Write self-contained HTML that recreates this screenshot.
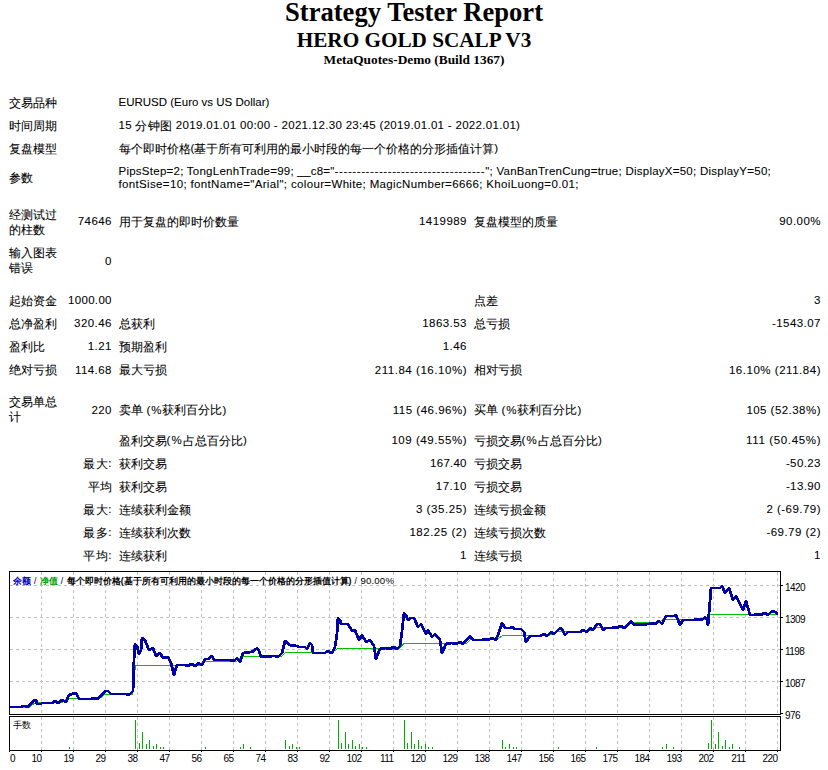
<!DOCTYPE html>
<html><head><meta charset="utf-8">
<style>
html,body{margin:0;padding:0;background:#fff;width:828px;height:770px;overflow:hidden;position:relative}
body{font-family:"Liberation Sans",sans-serif;color:#000}
.t{position:absolute;left:0;width:828px;text-align:center;font-family:"Liberation Serif",serif;font-weight:bold;white-space:nowrap}
.c{position:absolute;white-space:nowrap;font-size:11.5px;line-height:13px;-webkit-text-stroke:0.08px #000}
.r{text-align:right}
.k{position:relative;top:0.5px}
svg{position:absolute;left:0;top:0}
.g{stroke:#C0C0C0;stroke-width:1;stroke-dasharray:3 3}
.yl{position:absolute;left:785px;font-size:10px;letter-spacing:-0.55px;line-height:12px;white-space:nowrap}
.xl{position:absolute;top:753px;font-size:10px;letter-spacing:-0.55px;line-height:12px;white-space:nowrap}
.xr{width:60px;text-align:right}
.sl{letter-spacing:0.5px;font-weight:normal}
.ct{position:absolute;left:13px;top:575px;font-size:8.8px;line-height:11px;white-space:nowrap;font-weight:bold;letter-spacing:0px}
</style></head><body>
<div class="t" style="top:-2px;font-size:26.6px;line-height:28px">Strategy Tester Report</div>
<div class="t" style="top:29px;font-size:21.2px;line-height:22px">HERO GOLD SCALP V3</div>
<div class="t" style="top:52px;font-size:13.35px;line-height:15px">MetaQuotes-Demo (Build 1367)</div>
<div class="c" style="left:9px;top:96.0px"><span class="k">交易品种</span></div>
<div class="c" style="left:118.5px;top:96.0px">EURUSD (Euro vs US Dollar)</div>
<div class="c" style="left:9px;top:119.0px"><span class="k">时间周期</span></div>
<div class="c" style="left:118.5px;top:119.0px;letter-spacing:0.31px">15 <span class="k">分钟图</span> 2019.01.01 00:00 - 2021.12.30 23:45 (2019.01.01 - 2022.01.01)</div>
<div class="c" style="left:9px;top:142.0px"><span class="k">复盘模型</span></div>
<div class="c" style="left:118.5px;top:142.0px"><span class="k">每个即时价格</span>(<span class="k">基于所有可利用的最小时段的每一个价格的分形插值计算</span>)</div>
<div class="c" style="left:9px;top:171.0px"><span class="k">参数</span></div>
<div class="c" style="left:118.5px;top:164.5px"><span style="letter-spacing:0.25px">PipsStep=2; TongLenhTrade=99; __c8="</span><span style="letter-spacing:0.6px">----------------------------------</span><span style="letter-spacing:0.25px">"; VanBanTrenCung=true; DisplayX=50; DisplayY=50;</span><br><span style="letter-spacing:0.35px">fontSise=10; fontName="Arial"; colour=White; MagicNumber=6666; KhoiLuong=0.01;</span></div>
<div class="c" style="left:9px;top:207.3px;line-height:15px"><span class="k">经测试过</span><br><span class="k">的柱数</span></div>
<div class="c r" style="left:-188.05px;width:300px;top:215.0px;letter-spacing:0.45px">74646</div>
<div class="c" style="left:118.5px;top:215.0px"><span class="k">用于复盘的即时价数量</span></div>
<div class="c r" style="left:166.95px;width:300px;top:215.0px;letter-spacing:0.45px">1419989</div>
<div class="c" style="left:473.5px;top:215.0px"><span class="k">复盘模型的质量</span></div>
<div class="c r" style="left:520.95px;width:300px;top:215.0px;letter-spacing:0.45px">90.00%</div>
<div class="c" style="left:9px;top:245.5px;line-height:15px"><span class="k">输入图表</span><br><span class="k">错误</span></div>
<div class="c r" style="left:-188.05px;width:300px;top:254.5px;letter-spacing:0.45px">0</div>
<div class="c" style="left:9px;top:294.0px"><span class="k">起始资金</span></div>
<div class="c r" style="left:-188.17px;width:300px;top:294.0px;letter-spacing:0.33px">1000.00</div>
<div class="c" style="left:473.5px;top:294.0px"><span class="k">点差</span></div>
<div class="c r" style="left:520.95px;width:300px;top:294.0px;letter-spacing:0.45px">3</div>
<div class="c" style="left:9px;top:317.2px"><span class="k">总净盈利</span></div>
<div class="c r" style="left:-188.05px;width:300px;top:317.2px;letter-spacing:0.45px">320.46</div>
<div class="c" style="left:118.5px;top:317.2px"><span class="k">总获利</span></div>
<div class="c r" style="left:166.95px;width:300px;top:317.2px;letter-spacing:0.45px">1863.53</div>
<div class="c" style="left:473.5px;top:317.2px"><span class="k">总亏损</span></div>
<div class="c r" style="left:520.95px;width:300px;top:317.2px;letter-spacing:0.45px">-1543.07</div>
<div class="c" style="left:9px;top:340.3px"><span class="k">盈利比</span></div>
<div class="c r" style="left:-188.05px;width:300px;top:340.3px;letter-spacing:0.45px">1.21</div>
<div class="c" style="left:118.5px;top:340.3px"><span class="k">预期盈利</span></div>
<div class="c r" style="left:166.95px;width:300px;top:340.3px;letter-spacing:0.45px">1.46</div>
<div class="c" style="left:9px;top:363.5px"><span class="k">绝对亏损</span></div>
<div class="c r" style="left:-188.05px;width:300px;top:363.5px;letter-spacing:0.45px">114.68</div>
<div class="c" style="left:118.5px;top:363.5px"><span class="k">最大亏损</span></div>
<div class="c r" style="left:167.04px;width:300px;top:363.5px;letter-spacing:0.54px">211.84 (16.10%)</div>
<div class="c" style="left:473.5px;top:363.5px"><span class="k">相对亏损</span></div>
<div class="c r" style="left:521.03px;width:300px;top:363.5px;letter-spacing:0.53px">16.10% (211.84)</div>
<div class="c" style="left:9px;top:394.8px;line-height:15px"><span class="k">交易单总</span><br><span class="k">计</span></div>
<div class="c r" style="left:-188.05px;width:300px;top:403.5px;letter-spacing:0.45px">220</div>
<div class="c" style="left:118.5px;top:403.5px"><span class="k">卖单</span><span style="letter-spacing:0.9px"> (%</span><span class="k">获利百分比</span><span style="letter-spacing:0.9px">)</span></div>
<div class="c r" style="left:167.00px;width:300px;top:403.5px;letter-spacing:0.5px">115 (46.96%)</div>
<div class="c" style="left:473.5px;top:403.5px"><span class="k">买单</span><span style="letter-spacing:0.9px"> (%</span><span class="k">获利百分比</span><span style="letter-spacing:0.9px">)</span></div>
<div class="c r" style="left:520.96px;width:300px;top:403.5px;letter-spacing:0.46px">105 (52.38%)</div>
<div class="c" style="left:118.5px;top:434.0px"><span class="k">盈利交易</span><span style="letter-spacing:1.2px">(%</span><span class="k">占总百分比</span><span style="letter-spacing:1.2px">)</span></div>
<div class="c r" style="left:167.05px;width:300px;top:434.0px;letter-spacing:0.55px">109 (49.55%)</div>
<div class="c" style="left:473.5px;top:434.0px"><span class="k">亏损交易</span><span style="letter-spacing:1.2px">(%</span><span class="k">占总百分比</span><span style="letter-spacing:1.2px">)</span></div>
<div class="c r" style="left:521.15px;width:300px;top:434.0px;letter-spacing:0.65px">111 (50.45%)</div>
<div class="c r" style="left:-187.90px;width:300px;top:457.0px;letter-spacing:0.6px"><span class="k">最大</span>:</div>
<div class="c" style="left:118.5px;top:457.0px"><span class="k">获利交易</span></div>
<div class="c r" style="left:166.74px;width:300px;top:457.0px;letter-spacing:0.24px">167.40</div>
<div class="c" style="left:473.5px;top:457.0px"><span class="k">亏损交易</span></div>
<div class="c r" style="left:520.90px;width:300px;top:457.0px;letter-spacing:0.4px">-50.23</div>
<div class="c r" style="left:-188.50px;width:300px;top:480.0px"><span class="k">平均</span></div>
<div class="c" style="left:118.5px;top:480.0px"><span class="k">获利交易</span></div>
<div class="c r" style="left:166.97px;width:300px;top:480.0px;letter-spacing:0.47px">17.10</div>
<div class="c" style="left:473.5px;top:480.0px"><span class="k">亏损交易</span></div>
<div class="c r" style="left:520.90px;width:300px;top:480.0px;letter-spacing:0.4px">-13.90</div>
<div class="c r" style="left:-187.90px;width:300px;top:503.0px;letter-spacing:0.6px"><span class="k">最大</span>:</div>
<div class="c" style="left:118.5px;top:503.0px"><span class="k">连续获利金额</span></div>
<div class="c r" style="left:167.07px;width:300px;top:503.0px;letter-spacing:0.57px">3 (35.25)</div>
<div class="c" style="left:473.5px;top:503.0px"><span class="k">连续亏损金额</span></div>
<div class="c r" style="left:520.97px;width:300px;top:503.0px;letter-spacing:0.47px">2 (-69.79)</div>
<div class="c r" style="left:-187.90px;width:300px;top:526.0px;letter-spacing:0.6px"><span class="k">最多</span>:</div>
<div class="c" style="left:118.5px;top:526.0px"><span class="k">连续获利次数</span></div>
<div class="c r" style="left:167.02px;width:300px;top:526.0px;letter-spacing:0.52px">182.25 (2)</div>
<div class="c" style="left:473.5px;top:526.0px"><span class="k">连续亏损次数</span></div>
<div class="c r" style="left:520.97px;width:300px;top:526.0px;letter-spacing:0.47px">-69.79 (2)</div>
<div class="c r" style="left:-187.90px;width:300px;top:549.0px;letter-spacing:0.6px"><span class="k">平均</span>:</div>
<div class="c" style="left:118.5px;top:549.0px"><span class="k">连续获利</span></div>
<div class="c r" style="left:166.95px;width:300px;top:549.0px;letter-spacing:0.45px">1</div>
<div class="c" style="left:473.5px;top:549.0px"><span class="k">连续亏损</span></div>
<div class="c r" style="left:520.95px;width:300px;top:549.0px;letter-spacing:0.45px">1</div>
<svg width="828" height="770" viewBox="0 0 828 770">
<line x1="41.5" y1="572" x2="41.5" y2="714" class="g"/>
<line x1="41.5" y1="717" x2="41.5" y2="750" class="g"/>
<line x1="73.5" y1="572" x2="73.5" y2="714" class="g"/>
<line x1="73.5" y1="717" x2="73.5" y2="750" class="g"/>
<line x1="105.5" y1="572" x2="105.5" y2="714" class="g"/>
<line x1="105.5" y1="717" x2="105.5" y2="750" class="g"/>
<line x1="137.5" y1="572" x2="137.5" y2="714" class="g"/>
<line x1="137.5" y1="717" x2="137.5" y2="750" class="g"/>
<line x1="169.5" y1="572" x2="169.5" y2="714" class="g"/>
<line x1="169.5" y1="717" x2="169.5" y2="750" class="g"/>
<line x1="201.5" y1="572" x2="201.5" y2="714" class="g"/>
<line x1="201.5" y1="717" x2="201.5" y2="750" class="g"/>
<line x1="233.5" y1="572" x2="233.5" y2="714" class="g"/>
<line x1="233.5" y1="717" x2="233.5" y2="750" class="g"/>
<line x1="265.5" y1="572" x2="265.5" y2="714" class="g"/>
<line x1="265.5" y1="717" x2="265.5" y2="750" class="g"/>
<line x1="297.5" y1="572" x2="297.5" y2="714" class="g"/>
<line x1="297.5" y1="717" x2="297.5" y2="750" class="g"/>
<line x1="329.5" y1="572" x2="329.5" y2="714" class="g"/>
<line x1="329.5" y1="717" x2="329.5" y2="750" class="g"/>
<line x1="361.5" y1="572" x2="361.5" y2="714" class="g"/>
<line x1="361.5" y1="717" x2="361.5" y2="750" class="g"/>
<line x1="393.5" y1="572" x2="393.5" y2="714" class="g"/>
<line x1="393.5" y1="717" x2="393.5" y2="750" class="g"/>
<line x1="425.5" y1="572" x2="425.5" y2="714" class="g"/>
<line x1="425.5" y1="717" x2="425.5" y2="750" class="g"/>
<line x1="457.5" y1="572" x2="457.5" y2="714" class="g"/>
<line x1="457.5" y1="717" x2="457.5" y2="750" class="g"/>
<line x1="489.5" y1="572" x2="489.5" y2="714" class="g"/>
<line x1="489.5" y1="717" x2="489.5" y2="750" class="g"/>
<line x1="521.5" y1="572" x2="521.5" y2="714" class="g"/>
<line x1="521.5" y1="717" x2="521.5" y2="750" class="g"/>
<line x1="553.5" y1="572" x2="553.5" y2="714" class="g"/>
<line x1="553.5" y1="717" x2="553.5" y2="750" class="g"/>
<line x1="585.5" y1="572" x2="585.5" y2="714" class="g"/>
<line x1="585.5" y1="717" x2="585.5" y2="750" class="g"/>
<line x1="617.5" y1="572" x2="617.5" y2="714" class="g"/>
<line x1="617.5" y1="717" x2="617.5" y2="750" class="g"/>
<line x1="649.5" y1="572" x2="649.5" y2="714" class="g"/>
<line x1="649.5" y1="717" x2="649.5" y2="750" class="g"/>
<line x1="681.5" y1="572" x2="681.5" y2="714" class="g"/>
<line x1="681.5" y1="717" x2="681.5" y2="750" class="g"/>
<line x1="713.5" y1="572" x2="713.5" y2="714" class="g"/>
<line x1="713.5" y1="717" x2="713.5" y2="750" class="g"/>
<line x1="745.5" y1="572" x2="745.5" y2="714" class="g"/>
<line x1="745.5" y1="717" x2="745.5" y2="750" class="g"/>
<line x1="777.5" y1="572" x2="777.5" y2="714" class="g"/>
<line x1="777.5" y1="717" x2="777.5" y2="750" class="g"/>
<line x1="10" y1="585.5" x2="780" y2="585.5" class="g"/>
<line x1="10" y1="617.5" x2="780" y2="617.5" class="g"/>
<line x1="10" y1="649.5" x2="780" y2="649.5" class="g"/>
<line x1="10" y1="681.5" x2="780" y2="681.5" class="g"/>
<rect x="9.5" y="571.5" width="771" height="143" fill="none" stroke="#000"/>
<rect x="9.5" y="716.5" width="771" height="34" fill="none" stroke="#000"/>
<line x1="780" y1="585.5" x2="783" y2="585.5" stroke="#000" shape-rendering="crispEdges"/>
<line x1="780" y1="617.5" x2="783" y2="617.5" stroke="#000" shape-rendering="crispEdges"/>
<line x1="780" y1="649.5" x2="783" y2="649.5" stroke="#000" shape-rendering="crispEdges"/>
<line x1="780" y1="681.5" x2="783" y2="681.5" stroke="#000" shape-rendering="crispEdges"/>
<line x1="780" y1="713.5" x2="783" y2="713.5" stroke="#000" shape-rendering="crispEdges"/>
<line x1="9.5" y1="750" x2="9.5" y2="752" stroke="#000" shape-rendering="crispEdges"/>
<line x1="41.5" y1="750" x2="41.5" y2="752" stroke="#000" shape-rendering="crispEdges"/>
<line x1="73.5" y1="750" x2="73.5" y2="752" stroke="#000" shape-rendering="crispEdges"/>
<line x1="105.5" y1="750" x2="105.5" y2="752" stroke="#000" shape-rendering="crispEdges"/>
<line x1="137.5" y1="750" x2="137.5" y2="752" stroke="#000" shape-rendering="crispEdges"/>
<line x1="169.5" y1="750" x2="169.5" y2="752" stroke="#000" shape-rendering="crispEdges"/>
<line x1="201.5" y1="750" x2="201.5" y2="752" stroke="#000" shape-rendering="crispEdges"/>
<line x1="233.5" y1="750" x2="233.5" y2="752" stroke="#000" shape-rendering="crispEdges"/>
<line x1="265.5" y1="750" x2="265.5" y2="752" stroke="#000" shape-rendering="crispEdges"/>
<line x1="297.5" y1="750" x2="297.5" y2="752" stroke="#000" shape-rendering="crispEdges"/>
<line x1="329.5" y1="750" x2="329.5" y2="752" stroke="#000" shape-rendering="crispEdges"/>
<line x1="361.5" y1="750" x2="361.5" y2="752" stroke="#000" shape-rendering="crispEdges"/>
<line x1="393.5" y1="750" x2="393.5" y2="752" stroke="#000" shape-rendering="crispEdges"/>
<line x1="425.5" y1="750" x2="425.5" y2="752" stroke="#000" shape-rendering="crispEdges"/>
<line x1="457.5" y1="750" x2="457.5" y2="752" stroke="#000" shape-rendering="crispEdges"/>
<line x1="489.5" y1="750" x2="489.5" y2="752" stroke="#000" shape-rendering="crispEdges"/>
<line x1="521.5" y1="750" x2="521.5" y2="752" stroke="#000" shape-rendering="crispEdges"/>
<line x1="553.5" y1="750" x2="553.5" y2="752" stroke="#000" shape-rendering="crispEdges"/>
<line x1="585.5" y1="750" x2="585.5" y2="752" stroke="#000" shape-rendering="crispEdges"/>
<line x1="617.5" y1="750" x2="617.5" y2="752" stroke="#000" shape-rendering="crispEdges"/>
<line x1="649.5" y1="750" x2="649.5" y2="752" stroke="#000" shape-rendering="crispEdges"/>
<line x1="681.5" y1="750" x2="681.5" y2="752" stroke="#000" shape-rendering="crispEdges"/>
<line x1="713.5" y1="750" x2="713.5" y2="752" stroke="#000" shape-rendering="crispEdges"/>
<line x1="745.5" y1="750" x2="745.5" y2="752" stroke="#000" shape-rendering="crispEdges"/>
<line x1="777.5" y1="750" x2="777.5" y2="752" stroke="#000" shape-rendering="crispEdges"/>
<line x1="69.5" y1="747" x2="69.5" y2="749" stroke="#00B000" stroke-width="1" shape-rendering="crispEdges"/>
<line x1="135.5" y1="720" x2="135.5" y2="749" stroke="#00B000" stroke-width="1" shape-rendering="crispEdges"/>
<line x1="139.5" y1="743" x2="139.5" y2="749" stroke="#00B000" stroke-width="1" shape-rendering="crispEdges"/>
<line x1="142.5" y1="732" x2="142.5" y2="749" stroke="#00B000" stroke-width="1" shape-rendering="crispEdges"/>
<line x1="146.5" y1="744" x2="146.5" y2="749" stroke="#00B000" stroke-width="1" shape-rendering="crispEdges"/>
<line x1="149.5" y1="740" x2="149.5" y2="749" stroke="#00B000" stroke-width="1" shape-rendering="crispEdges"/>
<line x1="153.5" y1="746" x2="153.5" y2="749" stroke="#00B000" stroke-width="1" shape-rendering="crispEdges"/>
<line x1="156.5" y1="744" x2="156.5" y2="749" stroke="#00B000" stroke-width="1" shape-rendering="crispEdges"/>
<line x1="160.5" y1="747" x2="160.5" y2="749" stroke="#00B000" stroke-width="1" shape-rendering="crispEdges"/>
<line x1="163.5" y1="747" x2="163.5" y2="749" stroke="#00B000" stroke-width="1" shape-rendering="crispEdges"/>
<line x1="205.5" y1="747" x2="205.5" y2="749" stroke="#00B000" stroke-width="1" shape-rendering="crispEdges"/>
<line x1="240.5" y1="747" x2="240.5" y2="749" stroke="#00B000" stroke-width="1" shape-rendering="crispEdges"/>
<line x1="243.5" y1="744" x2="243.5" y2="749" stroke="#00B000" stroke-width="1" shape-rendering="crispEdges"/>
<line x1="250.5" y1="747" x2="250.5" y2="749" stroke="#00B000" stroke-width="1" shape-rendering="crispEdges"/>
<line x1="285.5" y1="740" x2="285.5" y2="749" stroke="#00B000" stroke-width="1" shape-rendering="crispEdges"/>
<line x1="289.5" y1="746" x2="289.5" y2="749" stroke="#00B000" stroke-width="1" shape-rendering="crispEdges"/>
<line x1="292.5" y1="744" x2="292.5" y2="749" stroke="#00B000" stroke-width="1" shape-rendering="crispEdges"/>
<line x1="296.5" y1="747" x2="296.5" y2="749" stroke="#00B000" stroke-width="1" shape-rendering="crispEdges"/>
<line x1="299.5" y1="747" x2="299.5" y2="749" stroke="#00B000" stroke-width="1" shape-rendering="crispEdges"/>
<line x1="338.5" y1="720" x2="338.5" y2="749" stroke="#00B000" stroke-width="1" shape-rendering="crispEdges"/>
<line x1="341.5" y1="743" x2="341.5" y2="749" stroke="#00B000" stroke-width="1" shape-rendering="crispEdges"/>
<line x1="345.5" y1="732" x2="345.5" y2="749" stroke="#00B000" stroke-width="1" shape-rendering="crispEdges"/>
<line x1="348.5" y1="744" x2="348.5" y2="749" stroke="#00B000" stroke-width="1" shape-rendering="crispEdges"/>
<line x1="352.5" y1="740" x2="352.5" y2="749" stroke="#00B000" stroke-width="1" shape-rendering="crispEdges"/>
<line x1="355.5" y1="746" x2="355.5" y2="749" stroke="#00B000" stroke-width="1" shape-rendering="crispEdges"/>
<line x1="359.5" y1="744" x2="359.5" y2="749" stroke="#00B000" stroke-width="1" shape-rendering="crispEdges"/>
<line x1="362.5" y1="747" x2="362.5" y2="749" stroke="#00B000" stroke-width="1" shape-rendering="crispEdges"/>
<line x1="366.5" y1="747" x2="366.5" y2="749" stroke="#00B000" stroke-width="1" shape-rendering="crispEdges"/>
<line x1="404.5" y1="720" x2="404.5" y2="749" stroke="#00B000" stroke-width="1" shape-rendering="crispEdges"/>
<line x1="407.5" y1="743" x2="407.5" y2="749" stroke="#00B000" stroke-width="1" shape-rendering="crispEdges"/>
<line x1="411.5" y1="732" x2="411.5" y2="749" stroke="#00B000" stroke-width="1" shape-rendering="crispEdges"/>
<line x1="414.5" y1="744" x2="414.5" y2="749" stroke="#00B000" stroke-width="1" shape-rendering="crispEdges"/>
<line x1="418.5" y1="740" x2="418.5" y2="749" stroke="#00B000" stroke-width="1" shape-rendering="crispEdges"/>
<line x1="421.5" y1="746" x2="421.5" y2="749" stroke="#00B000" stroke-width="1" shape-rendering="crispEdges"/>
<line x1="425.5" y1="744" x2="425.5" y2="749" stroke="#00B000" stroke-width="1" shape-rendering="crispEdges"/>
<line x1="428.5" y1="747" x2="428.5" y2="749" stroke="#00B000" stroke-width="1" shape-rendering="crispEdges"/>
<line x1="432.5" y1="747" x2="432.5" y2="749" stroke="#00B000" stroke-width="1" shape-rendering="crispEdges"/>
<line x1="502.5" y1="740" x2="502.5" y2="749" stroke="#00B000" stroke-width="1" shape-rendering="crispEdges"/>
<line x1="505.5" y1="747" x2="505.5" y2="749" stroke="#00B000" stroke-width="1" shape-rendering="crispEdges"/>
<line x1="509.5" y1="744" x2="509.5" y2="749" stroke="#00B000" stroke-width="1" shape-rendering="crispEdges"/>
<line x1="513.5" y1="747" x2="513.5" y2="749" stroke="#00B000" stroke-width="1" shape-rendering="crispEdges"/>
<line x1="516.5" y1="747" x2="516.5" y2="749" stroke="#00B000" stroke-width="1" shape-rendering="crispEdges"/>
<line x1="558.5" y1="747" x2="558.5" y2="749" stroke="#00B000" stroke-width="1" shape-rendering="crispEdges"/>
<line x1="596.5" y1="747" x2="596.5" y2="749" stroke="#00B000" stroke-width="1" shape-rendering="crispEdges"/>
<line x1="662.5" y1="747" x2="662.5" y2="749" stroke="#00B000" stroke-width="1" shape-rendering="crispEdges"/>
<line x1="666.5" y1="744" x2="666.5" y2="749" stroke="#00B000" stroke-width="1" shape-rendering="crispEdges"/>
<line x1="673.5" y1="747" x2="673.5" y2="749" stroke="#00B000" stroke-width="1" shape-rendering="crispEdges"/>
<line x1="708.5" y1="743" x2="708.5" y2="749" stroke="#00B000" stroke-width="1" shape-rendering="crispEdges"/>
<line x1="711.5" y1="720" x2="711.5" y2="749" stroke="#00B000" stroke-width="1" shape-rendering="crispEdges"/>
<line x1="715.5" y1="744" x2="715.5" y2="749" stroke="#00B000" stroke-width="1" shape-rendering="crispEdges"/>
<line x1="718.5" y1="732" x2="718.5" y2="749" stroke="#00B000" stroke-width="1" shape-rendering="crispEdges"/>
<line x1="722.5" y1="746" x2="722.5" y2="749" stroke="#00B000" stroke-width="1" shape-rendering="crispEdges"/>
<line x1="725.5" y1="740" x2="725.5" y2="749" stroke="#00B000" stroke-width="1" shape-rendering="crispEdges"/>
<line x1="729.5" y1="747" x2="729.5" y2="749" stroke="#00B000" stroke-width="1" shape-rendering="crispEdges"/>
<line x1="732.5" y1="744" x2="732.5" y2="749" stroke="#00B000" stroke-width="1" shape-rendering="crispEdges"/>
<line x1="739.5" y1="747" x2="739.5" y2="749" stroke="#00B000" stroke-width="1" shape-rendering="crispEdges"/>
<polyline points="10.4,707.2 29.2,707.2 35.5,702.5 62.2,702.5 67.7,698.4 78.6,698.4 99.0,699.0 104.5,694.7 132.8,694.7 134.4,675.5 135.5,665.1 202.2,665.1 205.4,661.2 236.8,661.2 241.5,656.2 281.7,656.2 285.6,652.1 331.9,652.6 338.2,648.4 398.8,649.3 403.9,643.4 466.3,643.4 471.1,639.1 497.0,639.9 502.4,635.5 549.0,635.2 558.4,631.1 588.2,631.1 596.0,627.4 626.0,627.5 631.9,622.0 659.0,622.5 663.5,619.3 707.0,619.3 710.1,614.4 778.4,614.4" fill="none" stroke="#00C000" stroke-width="1" shape-rendering="crispEdges"/>
<polyline points="10,707 21,707 23,706 25,706 28,707 34,700 36,700 37,704 41,704 42,703 52,703 55,701 58,703 62,700 64,701 66,702 69,695 72,694 76,693 79,699 91,699 94,698 98,699 105,691 108,691 111,694 124,694 126,694 129,695 133,691 134,660 135,644 137,646 139,654 141,650 142,638 145,640 149,650 153,648 156,656 160,653 163,658 168,657 171,663 174,675 177,665 185,665 188,666 191,664 196,666 198,663 202,665 205,659 208,659 212,656 214,660 227,660 230,660 234,661 237,658 240,662 243,653 251,652 254,651 257,648 259,651 261,657 273,656 275,656 278,657 282,653 285,641 287,642 289,645 297,646 299,647 305,647 307,649 310,643 312,645 313,653 325,653 327,651 332,653 335,647 337,634 338,618 340,620 341,624 348,624 352,631 355,630 359,640 362,635 366,642 370,640 374,646 376,659 380,649 386,648 389,649 394,647 397,649 400,646 402,631 404,613 406,615 408,620 411,618 414,618 418,627 421,624 426,634 428,630 432,637 435,634 440,640 442,653 446,644 452,643 456,644 460,642 463,644 470,636 473,640 482,640 484,639 488,640 492,638 496,640 499,632 502,623 505,628 510,628 512,627 515,629 521,629 524,632 526,642 530,636 536,636 540,636 544,634 547,636 551,632 554,634 560,628 562,629 565,635 568,632 580,632 583,630 587,632 590,628 593,630 597,624 600,624 603,630 606,628 612,628 614,627 617,628 620,626 625,628 631,621 634,625 649,624 652,623 655,624 659,621 662,624 666,616 674,616 676,615 680,625 683,620 694,620 698,619 702,620 705,617 707,620 708,625 709,613 710,601 711,588 720,588 722,586 725,593 729,588 733,600 736,596 743,610 746,601 750,615 754,615 757,614 760,615 765,613 768,615 772,611 775,612 778,614" fill="none" stroke="#0000A8" stroke-width="2.8" stroke-linejoin="round" shape-rendering="crispEdges"/>
</svg>
<div class="ct"><span style="color:#0000C0">余额</span><span class="sl"> / </span><span style="color:#00A000">净值</span><span class="sl"> / </span>每个即时价格(基于所有可利用的最小时段的每一个价格的分形插值计算)<span class="sl"> / </span><span style="font-weight:normal;font-size:9.6px;letter-spacing:0.2px">90.00%</span></div>
<div class="ct" style="top:720px;font-weight:normal;font-size:9px">手数</div>
<div class="yl" style="top:581.5px">1420</div>
<div class="yl" style="top:613.5px">1309</div>
<div class="yl" style="top:645.5px">1198</div>
<div class="yl" style="top:677.5px">1087</div>
<div class="yl" style="top:709.5px">976</div>
<div class="xl" style="left:10px">0</div>
<div class="xl xr" style="left:-18.5px">10</div>
<div class="xl xr" style="left:13.5px">19</div>
<div class="xl xr" style="left:45.5px">29</div>
<div class="xl xr" style="left:77.5px">38</div>
<div class="xl xr" style="left:109.5px">47</div>
<div class="xl xr" style="left:141.5px">56</div>
<div class="xl xr" style="left:173.5px">65</div>
<div class="xl xr" style="left:205.5px">74</div>
<div class="xl xr" style="left:237.5px">83</div>
<div class="xl xr" style="left:269.5px">92</div>
<div class="xl xr" style="left:301.5px">102</div>
<div class="xl xr" style="left:333.5px">111</div>
<div class="xl xr" style="left:365.5px">120</div>
<div class="xl xr" style="left:397.5px">129</div>
<div class="xl xr" style="left:429.5px">138</div>
<div class="xl xr" style="left:461.5px">147</div>
<div class="xl xr" style="left:493.5px">156</div>
<div class="xl xr" style="left:525.5px">165</div>
<div class="xl xr" style="left:557.5px">175</div>
<div class="xl xr" style="left:589.5px">184</div>
<div class="xl xr" style="left:621.5px">193</div>
<div class="xl xr" style="left:653.5px">202</div>
<div class="xl xr" style="left:685.5px">211</div>
<div class="xl xr" style="left:717.5px">220</div>
</body></html>
